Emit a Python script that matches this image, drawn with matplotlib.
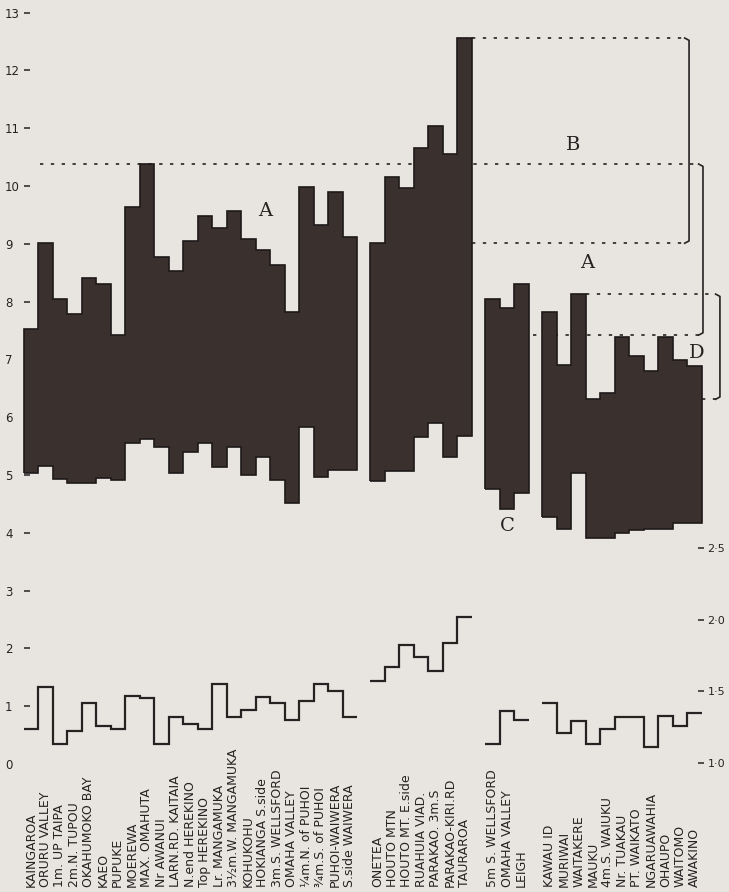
import numpy as np
import matplotlib.pyplot as plt

# station names, lowest and highest value, and the ratio line (right scale)
north_names = ["KAINGAROA", "ORURU VALLEY", "1m. UP TAIPA", "2m.N. TUPOU", "OKAHUMOKO BAY",
               "KAEO", "PUPUKE", "MOEREWA", "MAX. OMAHUTA", "Nr AWANUI", "LARN.RD. KAITAIA",
               "N.end HEREKINO", "Top HEREKINO", "Lr. MANGAMUKA", "3½m.W. MANGAMUKA", "KOHUKOHU",
               "HOKIANGA S.side", "3m.S. WELLSFORD", "OMAHA VALLEY", "¼m.N. of PUHOI",
               "¾m.S. of PUHOI", "PUHOI-WAIWERA", "S.side WAIWERA"]
north_low = [5.03, 5.15, 4.93, 4.86, 4.86, 4.95, 4.92, 5.55, 5.62, 5.48, 5.03, 5.40,
             5.55, 5.14, 5.48, 5.00, 5.31, 4.91, 4.51, 5.83, 4.96, 5.08, 5.08]
north_high = [7.53, 9.01, 8.05, 7.78, 8.40, 8.30, 7.42, 9.63, 10.38, 8.78, 8.53, 9.05,
              9.48, 9.28, 9.57, 9.08, 8.90, 8.63, 7.82, 9.98, 9.33, 9.90, 9.12]
north_ratio = [1.24, 1.53, 1.13, 1.22, 1.42, 1.26, 1.24, 1.47, 1.45, 1.13, 1.32, 1.27,
               1.24, 1.55, 1.32, 1.37, 1.46, 1.42, 1.30, 1.43, 1.55, 1.50, 1.32]

houto_names = ["ONETEA", "HOUTO MTN", "HOUTO MT. E.side", "RUAHUIA VIAD.", "PARAKAO. 3m.S",
               "PARAKAO-KIRI.RD", "TAURAROA"]
houto_low = [4.90, 5.07, 5.07, 5.65, 5.90, 5.31, 5.67]
houto_high = [9.01, 10.15, 9.96, 10.66, 11.04, 10.55, 12.56]
houto_ratio = [1.57, 1.67, 1.82, 1.74, 1.64, 1.84, 2.02]

leigh_names = ["5m S. WELLSFORD", "OMAHA VALLEY", "LEIGH"]
leigh_low = [4.75, 4.42, 4.68]
leigh_high = [8.04, 7.89, 8.30]
leigh_ratio = [1.13, 1.36, 1.30]

south_names = ["KAWAU ID", "MURIWAI", "WAITAKERE", "MAUKU", "4m.S. WAIUKU", "Nr. TUAKAU",
               "PT. WAIKATO", "NGARUAWAHIA", "OHAUPO", "WAITOMO", "AWAKINO"]
south_low = [4.27, 4.06, 5.03, 3.91, 3.91, 3.99, 4.05, 4.06, 4.06, 4.17, 4.17]
south_high = [7.82, 6.90, 8.13, 6.31, 6.42, 7.39, 7.06, 6.80, 7.39, 6.99, 6.89]
south_ratio = [1.42, 1.21, 1.29, 1.13, 1.24, 1.32, 1.32, 1.11, 1.33, 1.26, 1.35]

left_ticks = list(range(14))
right_ticks = [1.0, 1.5, 2.0, 2.5]

# colours
PAPER = "#e8e5e1"
BAR = "#3a312e"
EDGE = "#1e1a19"
INK = "#262222"

# layout in pixels (figure 729 x 892)
W, H = 729, 892
X0, BW = 23.5, 14.5      # left edge of first column, column width
Y0, UNIT = 764, 57.8     # pixel row of 0 on the left scale, pixels per unit
GAP = 0.93               # gap between the groups, in columns
R_OFF, R_SCALE = 0.993, 0.4032   # right scale = R_OFF + R_SCALE * left scale

ylo, yhi = -0.3, 13.15
spine_l, spine_r = 30, 698

fig = plt.figure(figsize=(W / 100, H / 100), dpi=100, facecolor=PAPER)
bottom = (H - (Y0 - ylo * UNIT)) / H
top = (H - (Y0 - yhi * UNIT)) / H
ax = fig.add_axes([spine_l / W, bottom, (spine_r - spine_l) / W, top - bottom])
ax.set_facecolor("none")
ax.set_xlim((spine_l - X0) / BW, (spine_r - X0) / BW)
ax.set_ylim(ylo, yhi)
ax.set_axisbelow(True)
for s in ax.spines.values():
    s.set_visible(False)

ax2 = ax.twinx()
ax2.set_ylim(R_OFF + R_SCALE * ylo, R_OFF + R_SCALE * yhi)
for s in ax2.spines.values():
    s.set_visible(False)

groups = [(north_low, north_high, north_ratio),
          (houto_low, houto_high, houto_ratio),
          (leigh_low, leigh_high, leigh_ratio),
          (south_low, south_high, south_ratio)]
all_names = north_names + houto_names + leigh_names + south_names

starts = []
pos = 0.0
centers = []
for low, high, ratio in groups:
    starts.append(pos)
    edges = pos + np.arange(len(low) + 1)
    ax.stairs(high, edges, baseline=low, fill=True, facecolor=BAR, edgecolor=EDGE,
              linewidth=1.2, zorder=3, clip_on=False)
    ax2.stairs(ratio, edges, baseline=None, color=INK, linewidth=1.6, clip_on=False)
    centers.extend(edges[:-1] + 0.5)
    pos += len(low) + GAP

# range brackets with dotted guide lines
dots = dict(color=INK, linewidth=1.2, linestyle=(0, (2, 4.5)), zorder=2, clip_on=False)
solid = dict(color=INK, linewidth=1.2, zorder=2, clip_on=False)

def bracket(x, lo, hi, lo_from, hi_from):
    ax.plot([hi_from, x - 0.3], [hi, hi], **dots)
    ax.plot([lo_from, x - 0.3], [lo, lo], **dots)
    ax.plot([x - 0.3, x, x, x - 0.3], [hi, hi - 0.04, lo + 0.04, lo], **solid)

n1, n2, n3 = len(north_low), len(houto_low), len(leigh_low)
south_end = starts[3] + len(south_low)
bracket(46.86, min(north_high), max(north_high), 35.14, 1.14)
bracket(45.9, min(houto_high), max(houto_high), starts[1] + n2, starts[1] + n2)
bracket(48.03, min(south_high), max(south_high), south_end,
        starts[3] + int(np.argmax(south_high)) + 1)

letter = dict(family="DejaVu Serif", fontsize=14, color=INK, ha="center", va="center")
ax.text(16.65, 9.57, "A", **letter)
ax.text(37.9, 10.71, "B", **letter)
ax.text(38.86, 8.67, "A", **letter)
ax.text(33.35, 4.12, "C", **letter)
ax.text(46.45, 7.11, "D", **letter)

# left scale: number then dash
ax.set_yticks(left_ticks, labels=[str(v) for v in left_ticks], fontsize=8.5, color=INK)
ax.tick_params(axis="y", direction="out", length=4.3, width=1.1, color=INK, pad=13.7)
for lab in ax.get_yticklabels():
    lab.set_horizontalalignment("left")
ax.yaxis.get_major_ticks()[0].tick1line.set_visible(False)

# right scale for the ratio line
ax2.set_yticks(right_ticks, labels=[f"{v:.1f}".replace(".", "·") for v in right_ticks],
               fontsize=8, color=INK)
ax2.tick_params(axis="y", direction="out", length=4.3, width=1.1, color=INK, pad=2.5)

# station names, written upward from the foot of the page
ax.set_xticks(centers, labels=all_names, rotation=90, va="bottom", fontsize=9, color=INK)
ax.tick_params(axis="x", length=0, pad=(887 - (Y0 - ylo * UNIT)) * 0.72)

fig.savefig("out.png", dpi=100, facecolor=PAPER)
